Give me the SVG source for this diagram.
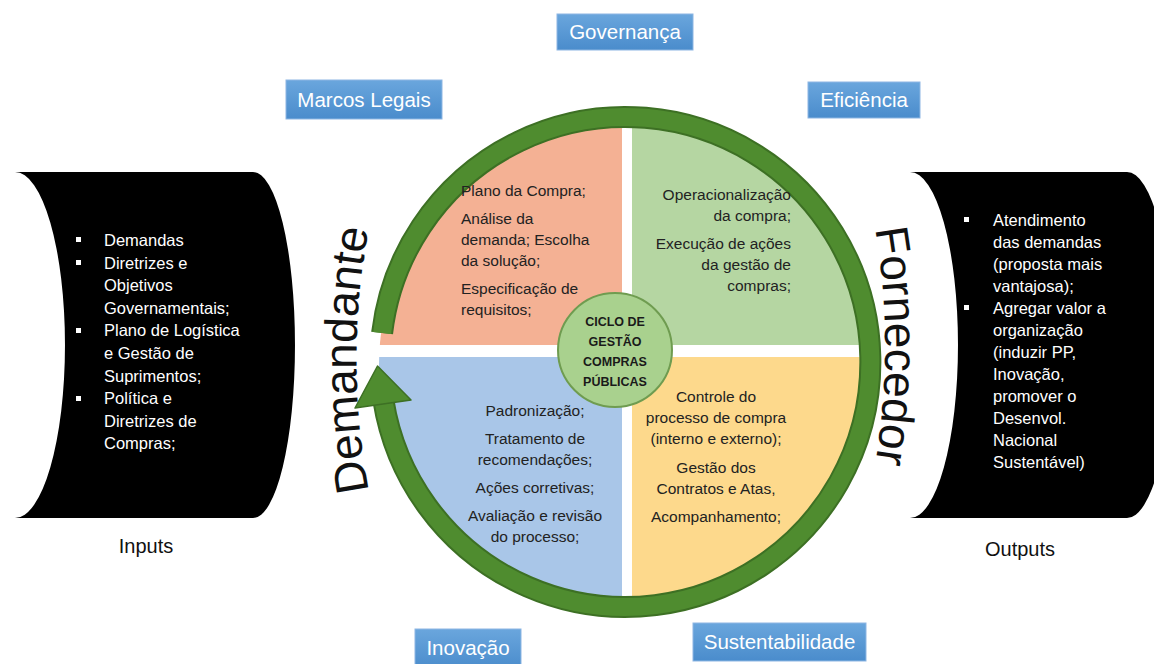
<svg xmlns="http://www.w3.org/2000/svg" width="1154" height="664" viewBox="0 0 1154 664">
<defs>
<style>
.lbl{font-family:"Liberation Sans",Arial,sans-serif;font-size:20.5px;fill:#ffffff;text-anchor:middle}
.box{fill:url(#bg);stroke:#8db6e3;stroke-width:1}
.wt{font-family:"Liberation Sans",Arial,sans-serif;font-size:16.5px;fill:#ffffff}
.qt{font-family:"Liberation Sans",Arial,sans-serif;font-size:15.5px;fill:#222222}
.ct{font-family:"Liberation Sans",Arial,sans-serif;font-size:12.5px;font-weight:bold;fill:#1a1a1a;text-anchor:middle}
.big{font-family:"Liberation Sans",Arial,sans-serif;font-size:46px;fill:#111111}
.io{font-family:"Liberation Sans",Arial,sans-serif;font-size:20px;fill:#111111;text-anchor:middle}
.blt{fill:#ffffff}
</style>
<linearGradient id="bg" x1="0" y1="0" x2="0" y2="1">
<stop offset="0" stop-color="#6aa6dd"/>
<stop offset="1" stop-color="#4a8ccc"/>
</linearGradient>
<clipPath id="cc"><circle cx="625" cy="365" r="246"/></clipPath>
<path id="pDem" d="M 370 497 A 700 700 0 0 1 370 223"/>
<path id="pFor" d="M 874 222 A 700 700 0 0 1 874 470"/>
</defs>
<rect width="1154" height="664" fill="#ffffff"/>

<g id="inputs">
<path d="M15,172 L253,172 A42,173 0 0 1 253,518 L15,518 A50,173 0 0 0 15,172 Z" fill="#000000"/>
<rect class="blt" x="76" y="237" width="5" height="5"/>
<rect class="blt" x="76" y="260" width="5" height="5"/>
<rect class="blt" x="76" y="328" width="5" height="5"/>
<rect class="blt" x="76" y="396" width="5" height="5"/>
<text class="wt" x="104" y="246">Demandas</text>
<text class="wt" x="104" y="268.6">Diretrizes e</text>
<text class="wt" x="104" y="291.2">Objetivos</text>
<text class="wt" x="104" y="313.8">Governamentais;</text>
<text class="wt" x="104" y="336.4">Plano de Logística</text>
<text class="wt" x="104" y="359">e Gestão de</text>
<text class="wt" x="104" y="381.6">Suprimentos;</text>
<text class="wt" x="104" y="404.2">Política e</text>
<text class="wt" x="104" y="426.8">Diretrizes de</text>
<text class="wt" x="104" y="449.4">Compras;</text>
</g>

<g id="outputs">
<path d="M910,172 L1127,172 A45,173 0 0 1 1127,518 L910,518 A48,173 0 0 0 910,172 Z" fill="#000000"/>
<rect class="blt" x="964" y="217" width="5" height="5"/>
<rect class="blt" x="964" y="305" width="5" height="5"/>
<text class="wt" x="993" y="226">Atendimento</text>
<text class="wt" x="993" y="248">das demandas</text>
<text class="wt" x="993" y="270">(proposta mais</text>
<text class="wt" x="993" y="292">vantajosa);</text>
<text class="wt" x="993" y="314">Agregar valor a</text>
<text class="wt" x="993" y="336">organização</text>
<text class="wt" x="993" y="358">(induzir PP,</text>
<text class="wt" x="993" y="380">Inovação,</text>
<text class="wt" x="993" y="402">promover o</text>
<text class="wt" x="993" y="424">Desenvol.</text>
<text class="wt" x="993" y="446">Nacional</text>
<text class="wt" x="993" y="468">Sustentável)</text>
</g>

<g id="quadrants" clip-path="url(#cc)">
<rect id="q-plan" x="360" y="100" width="262" height="245" fill="#f4b194"/>
<rect id="q-exec" x="632" y="100" width="270" height="245" fill="#b5d6a2"/>
<rect id="q-aval" x="360" y="357" width="262" height="280" fill="#a9c6e8"/>
<rect id="q-ctrl" x="632" y="357" width="270" height="280" fill="#fdd98c"/>
</g>

<g id="connectors">
<path d="M 382.1 333 A 245 245 0 1 1 383.5 401" fill="none" stroke="#3d7024" stroke-width="22"/>
<path d="M 382.1 333 A 245 245 0 1 1 383.5 401" fill="none" stroke="#4f8c2f" stroke-width="18"/>
<polygon points="377.5,366 355,408 411,400" fill="#4f8c2f" stroke="#3d7024" stroke-width="1.5" stroke-linejoin="round"/>
</g>

<g id="plan-text">
<text class="qt" x="461" y="196">Plano da Compra;</text>
<text class="qt" x="461" y="224">Análise da</text>
<text class="qt" x="461" y="245">demanda; Escolha</text>
<text class="qt" x="461" y="266">da solução;</text>
<text class="qt" x="461" y="294">Especificação de</text>
<text class="qt" x="461" y="315">requisitos;</text>
</g>
<g id="exec-text" text-anchor="end">
<text class="qt" x="791" y="200">Operacionalização</text>
<text class="qt" x="791" y="221">da compra;</text>
<text class="qt" x="791" y="249">Execução de ações</text>
<text class="qt" x="791" y="270">da gestão de</text>
<text class="qt" x="791" y="291">compras;</text>
</g>
<g id="aval-text" text-anchor="middle">
<text class="qt" x="535" y="416">Padronização;</text>
<text class="qt" x="535" y="444">Tratamento de</text>
<text class="qt" x="535" y="465">recomendações;</text>
<text class="qt" x="535" y="493">Ações corretivas;</text>
<text class="qt" x="535" y="521">Avaliação e revisão</text>
<text class="qt" x="535" y="542">do processo;</text>
</g>
<g id="ctrl-text" text-anchor="middle">
<text class="qt" x="716" y="402">Controle do</text>
<text class="qt" x="716" y="423">processo de compra</text>
<text class="qt" x="716" y="444">(interno e externo);</text>
<text class="qt" x="716" y="473">Gestão dos</text>
<text class="qt" x="716" y="494">Contratos e Atas,</text>
<text class="qt" x="716" y="522">Acompanhamento;</text>
</g>

<g id="center">
<circle cx="615" cy="350" r="57" fill="#a9d18e" stroke="#6f9c50" stroke-width="2"/>
<text class="ct" x="615" y="326">CICLO DE</text>
<text class="ct" x="615" y="346">GESTÃO</text>
<text class="ct" x="615" y="366">COMPRAS</text>
<text class="ct" x="615" y="386">PÚBLICAS</text>
</g>

<g id="demandante">
<text class="big"><textPath href="#pDem" startOffset="50%" text-anchor="middle">Demandante</textPath></text>
</g>
<g id="fornecedor">
<text class="big"><textPath href="#pFor" startOffset="50%" text-anchor="middle">Fornecedor</textPath></text>
</g>

<g id="governanca"><rect class="box" x="557" y="14" width="136" height="36"/><text class="lbl" x="625" y="39">Governança</text></g>
<g id="marcos"><rect class="box" x="286" y="80" width="156" height="39"/><text class="lbl" x="364" y="106.5">Marcos Legais</text></g>
<g id="eficiencia"><rect class="box" x="808" y="82" width="112" height="36"/><text class="lbl" x="864" y="107">Eficiência</text></g>
<g id="inovacao"><rect class="box" x="415" y="629" width="106" height="40"/><text class="lbl" x="468" y="655">Inovação</text></g>
<g id="sustentabilidade"><rect class="box" x="693" y="623" width="173" height="38"/><text class="lbl" x="779.5" y="649">Sustentabilidade</text></g>

<text class="io" x="146" y="553">Inputs</text>
<text class="io" x="1020" y="556">Outputs</text>
</svg>
